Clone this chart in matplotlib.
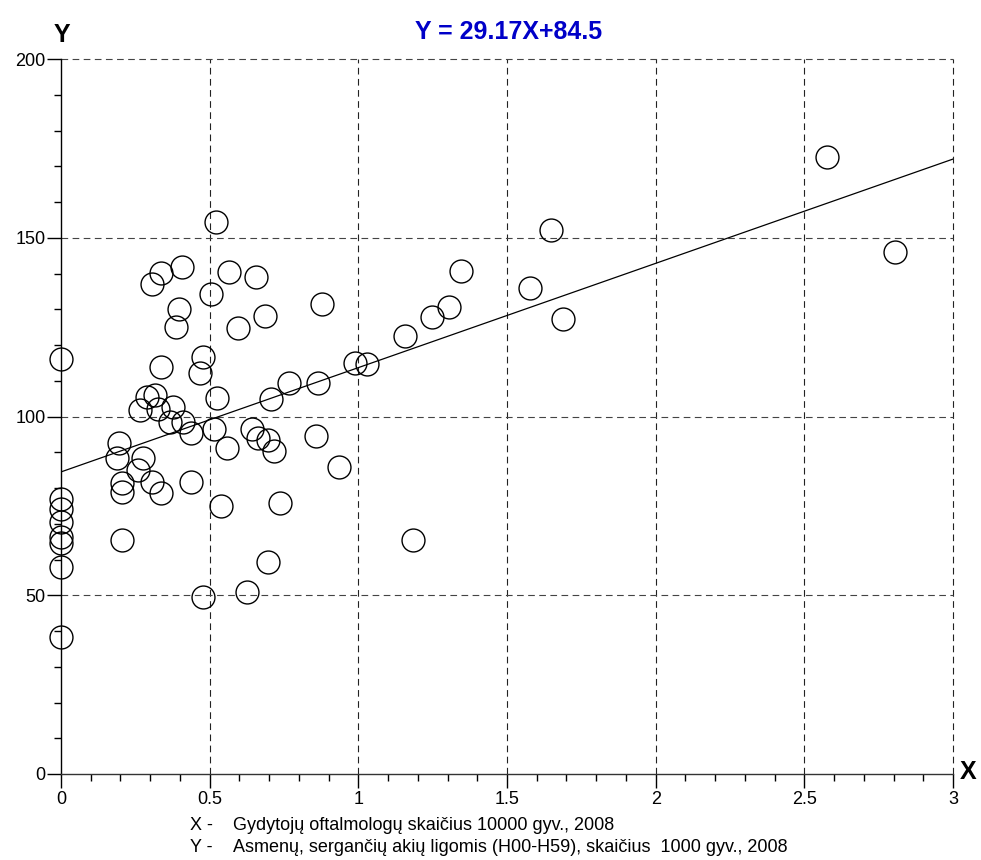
import matplotlib
matplotlib.use("Agg")
import matplotlib.pyplot as plt
from matplotlib import font_manager
import numpy as np

plt.rcParams['font.family'] = ['Liberation Sans', 'DejaVu Sans']

# data
x_vals = [0.52, 0.335, 0.407, 0.307, 0.565, 0.656, 0.506, 0.396, 0.386, 0.596,
          0.686, 0.0, 0.335, 0.477, 0.468, 0.526, 0.705, 0.766, 0.288, 0.316,
          0.266, 0.327, 0.378, 0.367, 0.41, 0.436, 0.515, 0.557, 0.643, 0.664,
          0.697, 0.716, 0.196, 0.187, 0.277, 0.204, 0.204, 0.305, 0.335, 0.26,
          0.436, 0.537, 0.737, 0.204, 0.697, 0.624, 0.477,
          0.0, 0.0, 0.0, 0.0, 0.0, 0.0, 0.0,
          0.877, 1.157, 1.247, 1.306, 1.346, 1.577, 1.647, 1.687, 0.989, 1.028,
          0.865, 0.857, 0.936, 1.185, 2.576, 2.805]
y_vals = [154.3, 140.2, 141.8, 137.0, 140.5, 139.0, 134.3, 130.2, 124.9, 124.7,
          128.2, 116.0, 113.9, 116.7, 112.1, 105.2, 104.8, 109.5, 105.5, 106.0,
          101.8, 102.0, 102.7, 98.5, 98.6, 95.3, 96.6, 91.1, 96.6, 94.0,
          93.4, 90.4, 92.7, 88.5, 88.5, 81.5, 79.0, 81.8, 78.5, 85.0,
          81.8, 75.1, 75.9, 65.5, 59.4, 50.8, 49.4,
          77.0, 74.0, 70.5, 66.4, 64.5, 58.0, 38.4,
          131.4, 122.6, 127.9, 130.7, 140.6, 135.9, 152.3, 127.3, 114.9, 114.7,
          109.5, 94.5, 85.8, 65.5, 172.6, 146.0]
slope = 29.17
intercept = 84.5
x_ticks = [0, 0.5, 1, 1.5, 2, 2.5, 3]
x_tick_labels = ["0", "0.5", "1", "1.5", "2", "2.5", "3"]
y_ticks = [0, 50, 100, 150, 200]
y_tick_labels = ["0", "50", "100", "150", "200"]
title_text = "Y = 29.17X+84.5"
x_desc = "Gydytojų oftalmologų skaičius 10000 gyv., 2008"
y_desc = "Asmenų, sergančių akių ligomis (H00-H59), skaičius  1000 gyv., 2008"

# condensed bold font for the title if available
try:
    font_manager.findfont(font_manager.FontProperties(family='Liberation Sans Narrow'),
                          fallback_to_default=False)
    title_family = ['Liberation Sans Narrow', 'Liberation Sans']
    title_size = 20
except Exception:
    title_family = ['Liberation Sans', 'DejaVu Sans']
    title_size = 18

W, H = 981, 860
fig = plt.figure(figsize=(W / 100, H / 100), dpi=100)
ax = fig.add_axes([61 / W, 1 - 774 / H, (953 - 61) / W, (774 - 59) / H])

ax.set_xlim(0, 3)
ax.set_ylim(0, 200)

# grid
for xv in x_ticks[1:]:
    ax.axvline(xv, color='#222222', lw=0.8, ls=(0, (6, 4)), zorder=1, clip_on=False)
for yv in y_ticks[1:]:
    ax.axhline(yv, color='#444444', lw=0.8, ls=(0, (6, 4)), zorder=1, clip_on=False)

# regression line
xl = np.array([0, 3])
ax.plot(xl, slope * xl + intercept, color='black', lw=0.9, zorder=2)

# points
ax.plot(x_vals, y_vals, linestyle='none', marker='o', markersize=16.5,
        markerfacecolor='none', markeredgecolor='black', markeredgewidth=1.0,
        clip_on=False, zorder=3)

for s in ['top', 'right']:
    ax.spines[s].set_visible(False)
ax.spines['left'].set_linewidth(1.0)
ax.spines['bottom'].set_linewidth(1.0)
ax.spines['bottom'].set_color('#333333')

ax.set_xticks(x_ticks)
ax.set_xticklabels(x_tick_labels)
ax.set_yticks(y_ticks)
ax.set_yticklabels(y_tick_labels)
ax.set_xticks(np.arange(0, 3.01, 0.1), minor=True)
ax.set_yticks(np.arange(0, 200.1, 10), minor=True)
ax.tick_params(axis='both', which='major', direction='out', length=10, width=1.0,
               labelsize=13, color='black')
ax.tick_params(axis='both', which='minor', direction='out', length=5, width=1.0,
               color='black')
ax.tick_params(axis='x', which='major', pad=2)
ax.tick_params(axis='y', which='major', pad=1)

fig.text(62 / W, 1 - 35 / H, "Y", fontsize=18, fontweight='bold',
         ha='center', va='center')
fig.text(968 / W, 1 - 772 / H, "X", fontsize=18, fontweight='bold',
         ha='center', va='center')
fig.text(509 / W, 1 - 32 / H, title_text, fontsize=title_size, fontweight='bold',
         family=title_family, color='#0000C8', ha='center', va='center')

fig.text(190 / W, 1 - 825 / H, "X -", fontsize=13, ha='left', va='center')
fig.text(233 / W, 1 - 825 / H, x_desc, fontsize=13, ha='left', va='center')
fig.text(190 / W, 1 - 848 / H, "Y -", fontsize=13, ha='left', va='center')
fig.text(233 / W, 1 - 848 / H, y_desc, fontsize=13, ha='left', va='center')

fig.savefig("out.png", dpi=100, facecolor='white')
